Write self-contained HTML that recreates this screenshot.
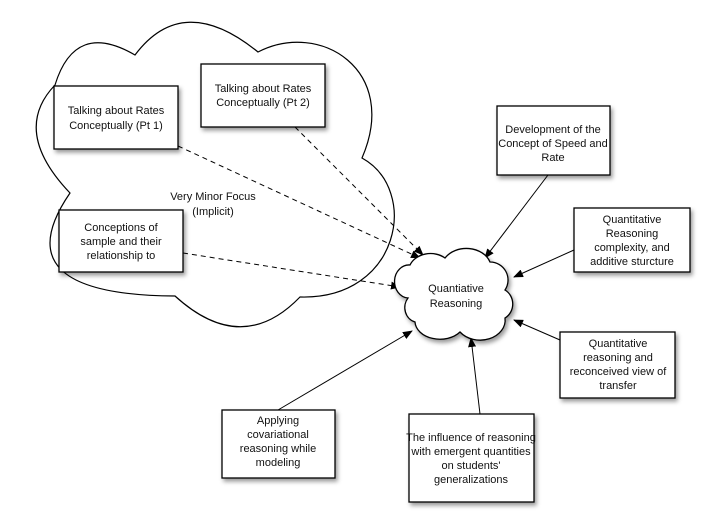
<!DOCTYPE html>
<html><head><style>
body{margin:0;background:#fff;}
svg{display:block;font-family:"Liberation Sans",Arial,sans-serif;}
.b{fill:#fff;stroke:#000;stroke-width:1.3;filter:url(#sh);}
text{font-size:11px;fill:#111;text-anchor:middle;}
</style></head><body>
<svg width="719" height="526" viewBox="0 0 719 526">
<defs>
<filter id="sh" x="-10%" y="-10%" width="130%" height="130%"><feDropShadow dx="2" dy="3" stdDeviation="2" flood-opacity="0.4"/></filter>
<marker id="ar" markerWidth="10" markerHeight="8" refX="9" refY="4" orient="auto" markerUnits="userSpaceOnUse"><path d="M0,0 L10,4 L0,8 Z" fill="#000"/></marker>
</defs>
<path d="M135,55 Q183,-9 258,52 C320,20 400,70 362,158 C420,190 400,300 300,297 Q242,357 175,296 Q0,295 70,193 Q11,131 55,85 Q75,20 135,55 Z" fill="#fff" stroke="#000" stroke-width="1.2"/>
<text x="213" y="200">Very Minor Focus</text>
<text x="213" y="215">(Implicit)</text>
<g stroke="#000" stroke-width="1" fill="none" marker-end="url(#ar)">
<line x1="178" y1="146" x2="420" y2="258" stroke-dasharray="5,4"/>
<line x1="295" y1="127" x2="423" y2="255" stroke-dasharray="5,4"/>
<line x1="183" y1="253" x2="400" y2="287" stroke-dasharray="5,4"/>
<line x1="548" y1="175" x2="485" y2="258"/>
<line x1="574" y1="250" x2="514" y2="277"/>
<line x1="560" y1="340" x2="514" y2="320"/>
<line x1="278" y1="410" x2="412" y2="331"/>
<line x1="480" y1="414" x2="471" y2="338"/>
</g>
<path class="b" d="M410,265 A22,18 0 0 1 445,258 A25,20 0 0 1 490,262 A18,18 0 0 1 505,290 A15,16 0 0 1 505,318 A25,20 0 0 1 460,332 A25,18 0 0 1 415,322 A14,15 0 0 1 408,298 A14,16 0 0 1 410,265 Z"/>
<text x="456" y="292">Quantiative</text>
<text x="456" y="307">Reasoning</text>
<rect class="b" x="54" y="86" width="124" height="63"/>
<text x="116" y="114">Talking about Rates</text><text x="116" y="129">Conceptually (Pt 1)</text>
<rect class="b" x="201" y="64" width="124" height="63"/>
<text x="263" y="92">Talking about Rates</text><text x="263" y="106">Conceptually (Pt 2)</text>
<rect class="b" x="59" y="210" width="124" height="62"/>
<text x="121" y="231">Conceptions of</text><text x="121" y="245">sample and their</text><text x="121" y="259">relationship to</text>
<rect class="b" x="497" y="106" width="113" height="69"/>
<text x="553" y="133">Development of the</text><text x="553" y="147">Concept of Speed and</text><text x="553" y="161">Rate</text>
<rect class="b" x="574" y="208" width="116" height="64"/>
<text x="632" y="223">Quantitative</text><text x="632" y="237">Reasoning</text><text x="632" y="251">complexity, and</text><text x="632" y="265">additive sturcture</text>
<rect class="b" x="560" y="332" width="115" height="66"/>
<text x="618" y="347">Quantitative</text><text x="618" y="361">reasoning and</text><text x="618" y="375">reconceived view of</text><text x="618" y="389">transfer</text>
<rect class="b" x="222" y="410" width="113" height="68"/>
<text x="278" y="424">Applying</text><text x="278" y="438">covariational</text><text x="278" y="452">reasoning while</text><text x="278" y="466">modeling</text>
<rect class="b" x="409" y="414" width="125" height="88"/>
<text x="471" y="441">The influence of reasoning</text><text x="471" y="455">with emergent quantities</text><text x="471" y="469">on students'</text><text x="471" y="483">generalizations</text>
</svg>
</body></html>
